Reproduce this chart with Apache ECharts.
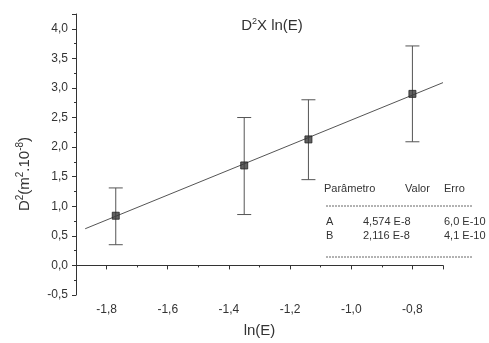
<!DOCTYPE html>
<html>
<head>
<meta charset="utf-8">
<script src="https://cdn.jsdelivr.net/npm/echarts@6/dist/echarts.min.js"></script>
<style>
  html, body { margin: 0; padding: 0; background: #fff; }
  #chart { width: 489px; height: 343px; }
</style>
</head>
<body>
<div id="chart"></div>
<script>
// pontos medidos: ln(E) x D^2 (m^2.10^-8)
var lnE = [-1.77, -1.35, -1.14, -0.80];
var d2 = [0.84, 1.69, 2.13, 2.90];
var errLow = [0.35, 0.86, 1.45, 2.09];
var errHigh = [1.31, 2.50, 2.80, 3.71];

// reta ajustada (extremos)
var fitX = [-1.87, -0.70];
var fitY = [0.62, 3.09];

// tabela de parametros
var tableHead = ['Parâmetro', 'Valor', 'Erro'];
var paramNames = ['A', 'B'];
var paramValues = ['4,574 E-8', '2,116 E-8'];
var paramErrors = ['6,0 E-10', '4,1 E-10'];

var font = '"Liberation Sans", Arial, sans-serif';
var ink = '#333';

function comma(v) {
    return v.toFixed(1).replace('.', ',');
}

var points = [];
var bars = [];
for (var i = 0; i < lnE.length; i++) {
    points.push([lnE[i], d2[i]]);
    bars.push([lnE[i], errLow[i], errHigh[i]]);
}
var fitLine = [];
for (var j = 0; j < fitX.length; j++) {
    fitLine.push([fitX[j], fitY[j]]);
}

var chart = echarts.init(document.getElementById('chart'));

var graphics = [];
var colX = [324, 405, 444];
for (var c = 0; c < tableHead.length; c++) {
    graphics.push({
        type: 'text', left: colX[c], top: 183,
        style: { text: tableHead[c], font: '11px ' + font, fill: ink }
    });
}
var rowY = [216, 230];
for (var r = 0; r < paramNames.length; r++) {
    graphics.push({ type: 'text', left: 326, top: rowY[r], style: { text: paramNames[r], font: '11px ' + font, fill: ink } });
    graphics.push({ type: 'text', left: 363, top: rowY[r], style: { text: paramValues[r], font: '11px ' + font, fill: ink } });
    graphics.push({ type: 'text', left: 444, top: rowY[r], style: { text: paramErrors[r], font: '11px ' + font, fill: ink } });
}
[206, 257].forEach(function (y) {
    graphics.push({
        type: 'line',
        shape: { x1: 326, y1: y, x2: 473, y2: y },
        style: { stroke: '#666', lineWidth: 1, lineDash: [2, 1] }
    });
});
// nome do eixo y
graphics.push({
    type: 'text',
    x: 25, y: 174,
    rotation: Math.PI / 2,
    style: {
        text: 'D{sup|2}(m{sup|2}.10{sup|-8})',
        font: '15px ' + font,
        fill: ink,
        align: 'center',
        verticalAlign: 'middle',
        rich: {
            sup: { fontFamily: font, fontSize: 10, fill: ink, verticalAlign: 'top', padding: [0, 0, 9, 0] }
        }
    }
});

var option = {
    backgroundColor: '#fff',
    animation: false,
    title: {
        text: 'D{sup|2}X ln(E)',
        left: 267,
        top: 12,
        textAlign: 'center',
        textStyle: {
            fontFamily: font, fontSize: 15, fontWeight: 'normal', color: ink,
            rich: { sup: { fontFamily: font, fontSize: 9, color: ink, verticalAlign: 'top', padding: [0, 0, 9, 0] } }
        }
    },
    grid: { left: 76, right: 46, top: 14, bottom: 46 },
    xAxis: {
        type: 'value',
        min: -1.9,
        max: -0.7,
        splitNumber: 6,
        name: 'ln(E)',
        nameLocation: 'middle',
        nameGap: 28,
        nameTextStyle: { fontFamily: font, fontSize: 15, color: ink },
        axisLine: { lineStyle: { color: ink, width: 1 } },
        axisTick: { inside: false, length: 4, lineStyle: { color: ink } },
        minorTick: { show: true, splitNumber: 2, length: 2, lineStyle: { color: ink } },
        splitLine: { show: false },
        axisLabel: {
            margin: 9,
            fontFamily: font, fontSize: 12, color: ink,
            formatter: function (v) {
                return Math.abs(Math.round(v * 10)) % 2 === 0 ? comma(v) : '';
            }
        }
    },
    yAxis: {
        type: 'value',
        min: -0.5,
        max: 4.25,
        interval: 0.5,
        axisLine: { show: true, lineStyle: { color: ink, width: 1 } },
        axisTick: { show: true, inside: false, length: 4, lineStyle: { color: ink } },
        minorTick: { show: true, splitNumber: 2, length: 2, lineStyle: { color: ink } },
        splitLine: { show: false },
        axisLabel: {
            margin: 8,
            showMaxLabel: false,
            fontFamily: font, fontSize: 12, color: ink,
            formatter: function (v) {
                return Math.abs(Math.round(v * 100)) % 50 === 0 ? comma(v) : '';
            }
        }
    },
    graphic: graphics,
    series: [
        {
            name: 'ajuste',
            type: 'line',
            data: fitLine,
            symbol: 'none',
            lineStyle: { color: '#555', width: 1 },
            z: 2
        },
        {
            name: 'erro',
            type: 'custom',
            data: bars,
            renderItem: function (params, api) {
                var x = api.value(0);
                var lo = api.coord([x, api.value(1)]);
                var hi = api.coord([x, api.value(2)]);
                var w = 7;
                var st = { stroke: '#555', lineWidth: 1, fill: null };
                return {
                    type: 'group',
                    children: [
                        { type: 'line', shape: { x1: lo[0], y1: lo[1], x2: hi[0], y2: hi[1] }, style: st },
                        { type: 'line', shape: { x1: hi[0] - w, y1: hi[1], x2: hi[0] + w, y2: hi[1] }, style: st },
                        { type: 'line', shape: { x1: lo[0] - w, y1: lo[1], x2: lo[0] + w, y2: lo[1] }, style: st }
                    ]
                };
            },
            z: 3
        },
        {
            name: 'D2',
            type: 'scatter',
            data: points,
            symbol: 'rect',
            symbolSize: 7,
            itemStyle: { color: '#3a3a3a', borderColor: '#222', borderWidth: 1 },
            z: 4
        }
    ]
};

chart.setOption(option);
</script>
</body>
</html>
